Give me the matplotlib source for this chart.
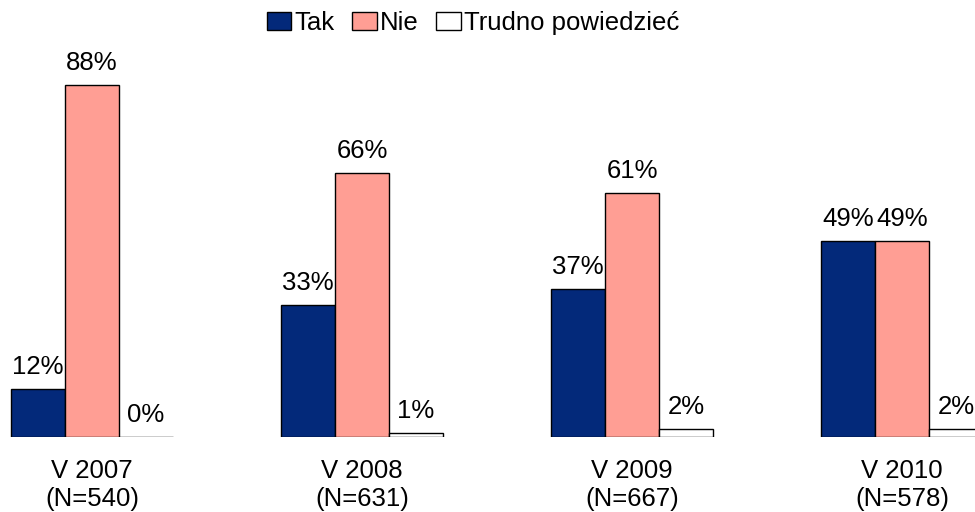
import matplotlib
matplotlib.use("Agg")
import matplotlib.pyplot as plt
import numpy as np

plt.rcParams['font.family'] = ['Liberation Sans', 'DejaVu Sans']

categories = ["V 2007\n(N=540)", "V 2008\n(N=631)", "V 2009\n(N=667)", "V 2010\n(N=578)"]
series_names = ["Tak", "Nie", "Trudno powiedzieć"]
tak = [12, 33, 37, 49]
nie = [88, 66, 61, 49]
trudno = [0, 1, 2, 2]
colors = ["#03297A", "#FF9E94", "#FFFFFF"]

W, H = 975, 512
fig = plt.figure(figsize=(W / 100, H / 100), dpi=100)
ax = fig.add_axes([0, 75 / H, 1, 387 / H])

x = np.arange(len(categories))
bw = 0.2
series = [tak, nie, trudno]
for i, (vals, name, col) in enumerate(zip(series, series_names, colors)):
    pos = x + (i - 1) * bw
    ax.bar(pos, vals, width=bw, color=col, edgecolor="black", linewidth=1.0, label=name)
    for p, v in zip(pos, vals):
        ax.annotate(f"{v}%", (p, v), xytext=(0, 11), textcoords="offset points",
                    ha="center", va="baseline", fontsize=18.5, annotation_clip=False)

ax.set_xlim(-92 / 270, (975 - 92) / 270)
ax.set_ylim(0, 387 / 4)
ax.set_xticks(x)
ax.set_xticklabels(categories, fontsize=18.5, linespacing=1.2)
ax.tick_params(axis="x", length=0, pad=16)
ax.set_yticks([])
for s in ax.spines.values():
    s.set_visible(False)

fig.legend(loc="center", bbox_to_anchor=(0.485, 0.955), ncol=3, frameon=False,
           fontsize=18.5, handlelength=0.95, handleheight=0.7, handletextpad=0.12,
           columnspacing=0.7, borderaxespad=0)

fig.savefig("out.png", dpi=100)
